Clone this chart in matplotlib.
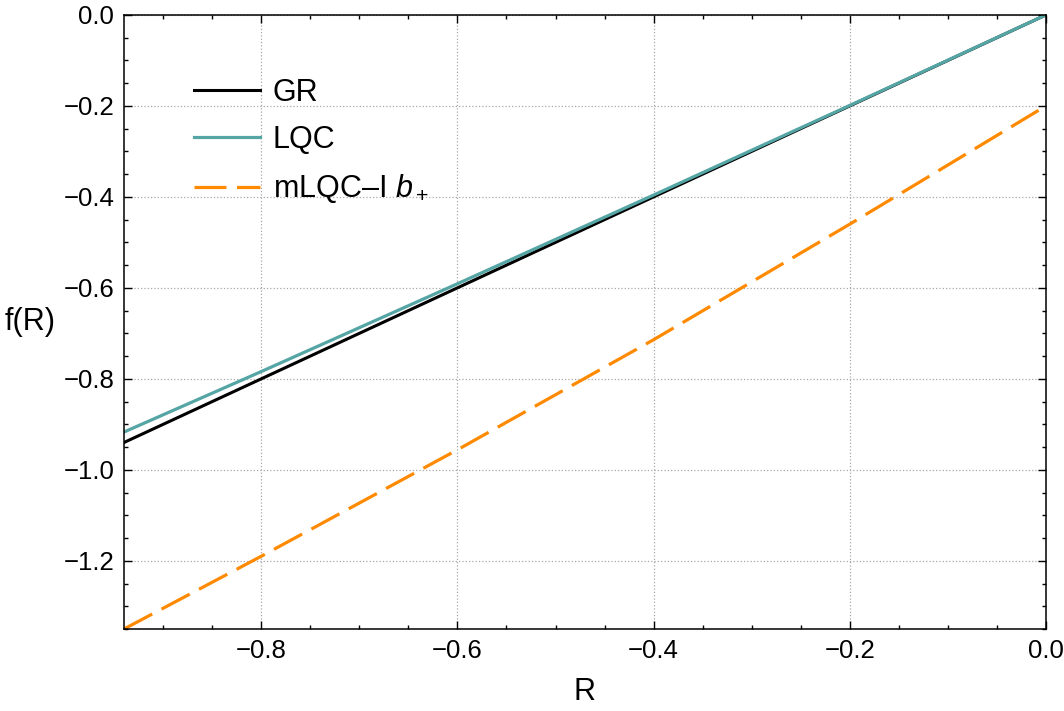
import matplotlib
matplotlib.use("Agg")
from matplotlib import pyplot as plt
from matplotlib.ticker import MultipleLocator

plt.rcParams['font.family'] = ['Liberation Sans', 'DejaVu Sans']
plt.rcParams['mathtext.fontset'] = 'custom'
plt.rcParams['mathtext.rm'] = 'Liberation Sans'
plt.rcParams['mathtext.it'] = 'Liberation Sans:italic'

# values
R_vals = [-0.94, -0.8, -0.6, -0.4, -0.2, 0.0]
gr_vals = [-0.94, -0.8, -0.6, -0.4, -0.2, 0.0]
lqc_vals = [-0.917, -0.784, -0.591, -0.396, -0.199, 0.0]
mlqc_vals = [-1.35, -1.19, -0.956, -0.714, -0.46, -0.2]

fig = plt.figure(figsize=(10.64, 7.11), dpi=100)
ax = fig.add_axes([0.1165, 0.1153, 0.8665, 0.8637])

ax.plot(R_vals, gr_vals, color='black', lw=2.2, label='GR')
ax.plot(R_vals, lqc_vals, color='#55a5a5', lw=2.3, label='LQC')
ax.plot(R_vals, mlqc_vals, color='#ff8a00', lw=2.3, dashes=(10, 3.3), label='mLQC\u2013I $b_+$')

ax.set_xlim(-0.94, 0.0)
ax.set_ylim(-1.35, 0.0)
ax.xaxis.set_major_locator(MultipleLocator(0.2))
ax.xaxis.set_minor_locator(MultipleLocator(0.05))
ax.yaxis.set_major_locator(MultipleLocator(0.2))
ax.yaxis.set_minor_locator(MultipleLocator(0.05))
ax.tick_params(which='both', direction='in', top=True, right=True, labelsize=18.5, width=1.0)
ax.tick_params(which='major', length=5.5, pad=7)
ax.tick_params(which='minor', length=3)
for sp in ax.spines.values():
    sp.set_linewidth(1.1)
ax.grid(True, which='major', ls=':', color='#a8a8a8', lw=0.9)

ax.set_xlabel('R', fontsize=22, labelpad=10)
ax.set_ylabel('f(R)', fontsize=22, rotation=0, labelpad=24, va='center')

ax.legend(loc='upper left', bbox_to_anchor=(0.076, 0.898), frameon=False, fontsize=22,
          handlelength=2.15, handletextpad=0.42, labelspacing=0.57, borderpad=0, borderaxespad=0)

fig.savefig('out.png', dpi=100)
